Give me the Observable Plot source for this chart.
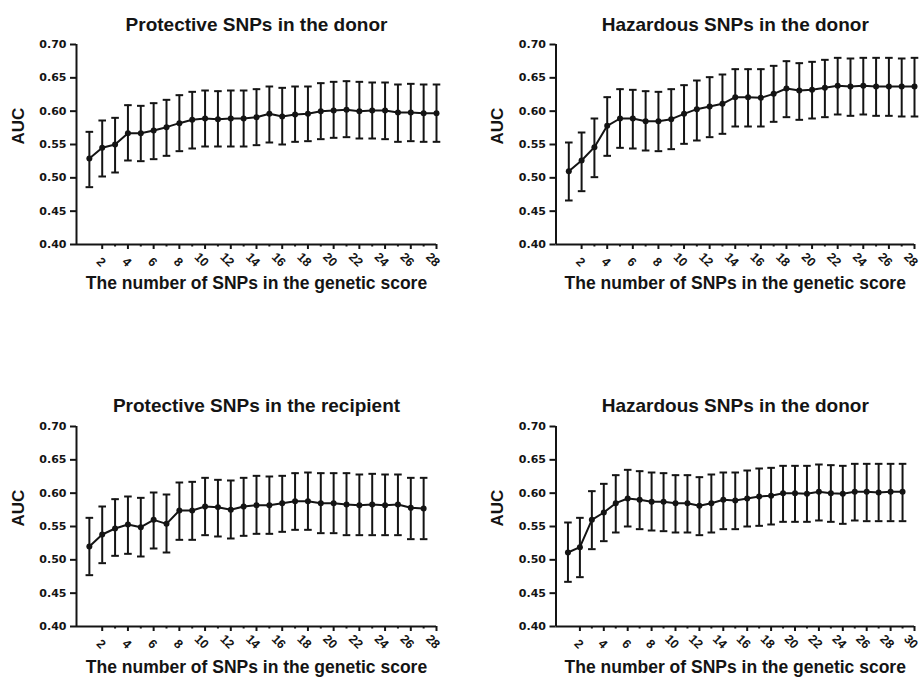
<!DOCTYPE html>
<html>
<head>
<meta charset="utf-8">
<script src="https://cdn.jsdelivr.net/npm/d3@7"></script>
<script src="https://cdn.jsdelivr.net/npm/@observablehq/plot@0.6"></script>
<style>
  html, body { margin: 0; padding: 0; background: #fff; }
  #root { position: relative; width: 920px; height: 685px; overflow: hidden; background: #fff; }
  .panel { position: absolute; }
</style>
</head>
<body>
<div id="root"></div>
<script>
// ---- Data ----
const titles = [
  "Protective SNPs in the donor",
  "Hazardous SNPs in the donor",
  "Protective SNPs in the recipient",
  "Hazardous SNPs in the donor"
];
const xLabel = "The number of SNPs in the genetic score";
const yLabel = "AUC";
const yTicks = [0.40, 0.45, 0.50, 0.55, 0.60, 0.65, 0.70];
const xMax = [28, 28, 28, 30];

const mean1 = [0.529,0.545,0.550,0.567,0.567,0.571,0.576,0.582,0.587,0.589,0.588,0.589,0.589,0.591,0.596,0.592,0.595,0.596,0.600,0.601,0.602,0.600,0.601,0.601,0.598,0.598,0.597,0.597];
const hi1   = [0.569,0.586,0.590,0.609,0.608,0.612,0.617,0.624,0.629,0.631,0.630,0.631,0.631,0.633,0.637,0.635,0.637,0.637,0.642,0.644,0.645,0.644,0.643,0.643,0.640,0.641,0.640,0.640];
const lo1   = [0.486,0.502,0.508,0.526,0.525,0.528,0.533,0.540,0.544,0.547,0.547,0.547,0.547,0.549,0.553,0.550,0.554,0.555,0.558,0.560,0.561,0.559,0.559,0.558,0.554,0.555,0.554,0.554];

const mean2 = [0.510,0.526,0.546,0.578,0.589,0.589,0.585,0.585,0.588,0.596,0.603,0.607,0.611,0.621,0.621,0.620,0.626,0.634,0.631,0.632,0.635,0.638,0.637,0.638,0.637,0.637,0.637,0.637];
const hi2   = [0.553,0.568,0.589,0.621,0.633,0.632,0.630,0.629,0.633,0.639,0.646,0.651,0.655,0.663,0.663,0.663,0.668,0.675,0.672,0.674,0.677,0.680,0.679,0.680,0.680,0.680,0.679,0.680];
const lo2   = [0.466,0.480,0.501,0.533,0.545,0.544,0.541,0.540,0.543,0.551,0.556,0.561,0.566,0.577,0.577,0.577,0.584,0.591,0.587,0.589,0.591,0.595,0.593,0.595,0.593,0.593,0.592,0.592];

const mean3 = [0.520,0.538,0.547,0.553,0.549,0.560,0.554,0.574,0.574,0.580,0.579,0.575,0.580,0.582,0.582,0.585,0.588,0.588,0.585,0.585,0.583,0.582,0.583,0.582,0.583,0.578,0.577];
const hi3   = [0.563,0.580,0.591,0.595,0.593,0.601,0.598,0.616,0.617,0.623,0.620,0.619,0.623,0.626,0.625,0.626,0.630,0.631,0.630,0.630,0.630,0.628,0.629,0.628,0.628,0.623,0.623];
const lo3   = [0.477,0.495,0.506,0.509,0.505,0.517,0.511,0.530,0.530,0.537,0.535,0.532,0.536,0.539,0.539,0.542,0.545,0.545,0.540,0.540,0.537,0.537,0.537,0.537,0.537,0.531,0.531];

const mean4 = [0.511,0.519,0.560,0.571,0.585,0.592,0.590,0.587,0.587,0.585,0.585,0.581,0.585,0.590,0.589,0.592,0.595,0.596,0.600,0.600,0.599,0.602,0.600,0.599,0.602,0.602,0.601,0.602,0.602];
const hi4   = [0.556,0.563,0.603,0.614,0.627,0.635,0.633,0.631,0.630,0.627,0.627,0.624,0.628,0.631,0.631,0.634,0.637,0.638,0.641,0.641,0.641,0.643,0.642,0.641,0.644,0.644,0.644,0.644,0.644];
const lo4   = [0.467,0.474,0.516,0.528,0.541,0.550,0.546,0.544,0.543,0.541,0.541,0.537,0.541,0.546,0.546,0.550,0.551,0.553,0.557,0.557,0.557,0.559,0.557,0.554,0.559,0.558,0.558,0.558,0.558];

const series = [
  {mean: mean1, lo: lo1, hi: hi1},
  {mean: mean2, lo: lo2, hi: hi2},
  {mean: mean3, lo: lo3, hi: hi3},
  {mean: mean4, lo: lo4, hi: hi4}
];

// ---- Layout (pixels) ----
const layouts = [
  {left: 0,   top: 0,   height: 342, mt: 44, mb: 98, ml: 76,   mr: 24, titleDy: -27, xlabDy: 44},
  {left: 460, top: 0,   height: 342, mt: 44, mb: 98, ml: 95.5, mr: 6,  titleDy: -27, xlabDy: 44},
  {left: 0,   top: 342, height: 343, mt: 84, mb: 59, ml: 76,   mr: 24, titleDy: -28, xlabDy: 46},
  {left: 460, top: 342, height: 343, mt: 84, mb: 59, ml: 95.5, mr: 6,  titleDy: -28, xlabDy: 46}
];

const ink = "#141414";
const capSymbol = {
  draw(context) { context.moveTo(-3.8, 0); context.lineTo(3.8, 0); }
};
const sans = "'Liberation Sans', Arial, Helvetica, sans-serif";
const wide = "'DejaVu Sans', Verdana, sans-serif";

const root = document.getElementById("root");

series.forEach((s, k) => {
  const L = layouts[k];
  const data = s.mean.map((m, i) => ({n: i + 1, mean: m, lo: s.lo[i], hi: s.hi[i]}));
  const majorX = d3.range(2, xMax[k] + 1, 2);
  const minorX = d3.range(3, xMax[k], 2);

  const chart = Plot.plot({
    width: 460,
    height: L.height,
    marginTop: L.mt,
    marginBottom: L.mb,
    marginLeft: L.ml,
    marginRight: L.mr,
    style: {background: "#fff", color: ink, fontFamily: sans, overflow: "visible"},
    x: {domain: [0, xMax[k]]},
    y: {domain: [0.40, 0.70]},
    marks: [
      Plot.axisY({ticks: yTicks, tickFormat: d3.format(".2f"), tickSize: 6, tickPadding: 4,
        strokeWidth: 2, fontSize: 11, fontWeight: "bold", fontFamily: wide, label: null}),
      Plot.axisX({ticks: majorX, tickSize: 5, strokeWidth: 2, tickFormat: () => "", label: null}),
      Plot.axisX({ticks: minorX, tickSize: 2.5, strokeWidth: 2, tickFormat: () => "", label: null}),
      Plot.text(majorX, {x: d => d, text: d => String(d), frameAnchor: "bottom", dy: 23, dx: -1.5,
        rotate: 45, textAnchor: "end", fontSize: 12.5, fontWeight: "bold", fontFamily: sans, fill: ink}),
      Plot.ruleX([0], {y1: 0.40, y2: 0.70, stroke: ink, strokeWidth: 2}),
      Plot.ruleY([0.40], {x1: 0, x2: xMax[k], stroke: ink, strokeWidth: 2}),
      Plot.ruleX(data, {x: "n", y1: "lo", y2: "hi", stroke: ink, strokeWidth: 2}),
      Plot.dot(data, {x: "n", y: "hi", symbol: capSymbol, r: 4, stroke: ink, strokeWidth: 2, fill: "none"}),
      Plot.dot(data, {x: "n", y: "lo", symbol: capSymbol, r: 4, stroke: ink, strokeWidth: 2, fill: "none"}),
      Plot.line(data, {x: "n", y: "mean", stroke: ink, strokeWidth: 2}),
      Plot.dot(data, {x: "n", y: "mean", r: 3, fill: ink, stroke: "none"}),
      Plot.text([titles[k]], {text: d => d, frameAnchor: "top", dy: L.titleDy, fontSize: 19,
        fontWeight: "bold", fontFamily: sans, fill: ink}),
      Plot.text([xLabel], {text: d => d, frameAnchor: "bottom", dy: L.xlabDy, fontSize: 17.5,
        fontWeight: "bold", fontFamily: sans, fill: ink}),
      Plot.text([yLabel], {text: d => d, frameAnchor: "left", dx: -58, rotate: -90, fontSize: 17,
        fontWeight: "bold", fontFamily: sans, fill: ink})
    ]
  });

  const div = document.createElement("div");
  div.className = "panel";
  div.style.left = L.left + "px";
  div.style.top = L.top + "px";
  div.appendChild(chart);
  root.appendChild(div);
});
</script>
</body>
</html>
